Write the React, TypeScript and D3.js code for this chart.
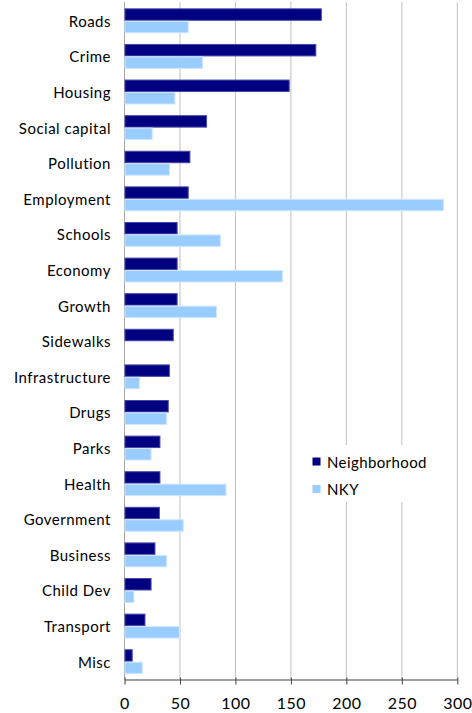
import { useEffect, useRef } from 'react';
import * as d3 from 'd3';

// Chart data
const categories = [
  'Roads', 'Crime', 'Housing', 'Social capital', 'Pollution', 'Employment',
  'Schools', 'Economy', 'Growth', 'Sidewalks', 'Infrastructure', 'Drugs',
  'Parks', 'Health', 'Government', 'Business', 'Child Dev', 'Transport', 'Misc',
];
const neighborhood = [177, 172, 148, 73.5, 58.5, 57, 47, 47, 47, 43.5, 40, 39, 31.5, 31.5, 31, 27, 23.5, 18, 6.5];
const nky = [57, 70, 45, 24.5, 40, 287, 86, 142, 82.5, 0, 13, 37.5, 23.5, 91, 52.5, 37.5, 8, 49, 15.5];
const seriesNames = ['Neighborhood', 'NKY'];
const seriesColors = ['#000080', '#99ccff'];
const seriesStrokes = ['#4848a8', '#d0e6ff'];
const xTicks = [0, 50, 100, 150, 200, 250, 300];

const width = 472;
const height = 713;
const FONT = 'Lato, "Open Sans", sans-serif';

export default function App() {
  const svgRef = useRef<SVGSVGElement>(null);

  useEffect(() => {
    if (!svgRef.current) return;
    const svg = d3.select(svgRef.current);
    svg.selectAll('*').remove();

    const left = 124.5;
    const right = 457.3;
    const top = 2;
    const bottom = 679.5;

    const x = d3.scaleLinear().domain([0, 300]).range([left, right]);
    const y = d3.scaleBand<string>()
      .domain(categories)
      .range([top + 1, bottom])
      .paddingInner(0.3)
      .paddingOuter(0.15);
    const ySub = d3.scaleBand<number>()
      .domain([0, 1])
      .range([0, y.bandwidth()]);

    // gridlines
    svg.append('g')
      .selectAll('line')
      .data(xTicks.slice(1))
      .join('line')
      .attr('x1', d => x(d))
      .attr('x2', d => x(d))
      .attr('y1', top)
      .attr('y2', bottom)
      .attr('stroke', '#c0c0c0')
      .attr('stroke-width', 1);

    // vertical axis line
    svg.append('line')
      .attr('x1', left).attr('x2', left)
      .attr('y1', top).attr('y2', bottom)
      .attr('stroke', '#a6a6a6');

    // bars
    const series = [neighborhood, nky];
    series.forEach((vals, si) => {
      svg.append('g')
        .selectAll('rect')
        .data(vals)
        .join('rect')
        .attr('x', x(0) + 0.5)
        .attr('y', (_, i) => (y(categories[i]) || 0) + (ySub(si) || 0) + 0.5)
        .attr('width', d => Math.max(0, x(d) - x(0)))
        .attr('height', ySub.bandwidth() - 1)
        .attr('fill', seriesColors[si])
        .attr('stroke', d => (d > 0 ? seriesStrokes[si] : 'none'))
        .attr('stroke-width', 1);
    });

    // category labels
    svg.append('g')
      .selectAll('text')
      .data(categories)
      .join('text')
      .attr('x', 111)
      .attr('y', d => (y(d) || 0) + y.bandwidth() / 2)
      .attr('text-anchor', 'end')
      .attr('dominant-baseline', 'central')
      .attr('font-family', FONT)
      .attr('font-size', '15px')
      .attr('letter-spacing', '0.5px')
      .attr('fill', '#000')
      .text(d => d);

    // x axis
    const axis = svg.append('g')
      .attr('transform', `translate(0, ${bottom})`)
      .call(d3.axisBottom(x).tickValues(xTicks).tickSize(5).tickSizeOuter(0));
    axis.select('.domain').attr('stroke', '#404040');
    axis.selectAll('.tick line').attr('stroke', '#404040').attr('y1', -2);
    axis.selectAll('.tick text')
      .attr('y', 24)
      .attr('dy', '0.35em')
      .attr('font-family', FONT)
      .attr('font-size', '16px')
      .attr('letter-spacing', '0.5px')
      .attr('fill', '#000');

    // legend
    const legend = svg.append('g');
    legend.append('rect')
      .attr('x', 298).attr('y', 445)
      .attr('width', 152).attr('height', 57)
      .attr('fill', '#fff');
    seriesNames.forEach((name, i) => {
      const ly = 461.5 + i * 27.5;
      legend.append('rect')
        .attr('x', 312.5).attr('y', ly - 4)
        .attr('width', 8).attr('height', 8)
        .attr('fill', seriesColors[i]);
      legend.append('text')
        .attr('x', 327)
        .attr('y', ly)
        .attr('dominant-baseline', 'central')
        .attr('font-family', FONT)
        .attr('font-size', '15px')
        .attr('letter-spacing', '0.4px')
        .attr('fill', '#000')
        .text(name);
    });
  }, []);

  return (
    <svg
      ref={svgRef}
      width={width}
      height={height}
      style={{ position: 'absolute', left: 0, top: 0, background: '#fff' }}
    />
  );
}
